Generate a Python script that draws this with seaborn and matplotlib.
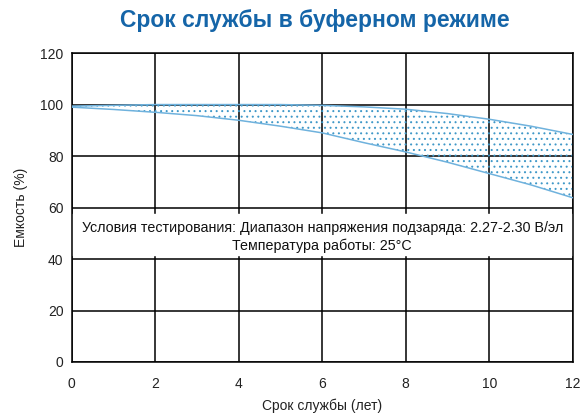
import numpy as np
import pandas as pd
import matplotlib
matplotlib.use("Agg")
import matplotlib.pyplot as plt
import seaborn as sns

# values
years = [0, 1, 2, 3, 4, 5, 6, 7, 8, 9, 10, 11, 12]
upper = [99.4, 99.7, 100, 100, 100, 100, 99.7, 99.1, 98.2, 96.5, 94.3, 91.6, 88.4]
lower = [99.0, 98.1, 97.0, 95.7, 93.9, 91.6, 89.0, 85.2, 81.6, 77.6, 73.2, 68.8, 63.8]
x_ticks = [0, 2, 4, 6, 8, 10, 12]
y_ticks = [0, 20, 40, 60, 80, 100, 120]

title = "Срок службы в буферном режиме"
note = ("Условия тестирования: Диапазон напряжения подзаряда: 2.27-2.30 В/эл\n"
        "Температура работы: 25°C")

sns.set_style("white")
plt.rcParams['font.family'] = ['Liberation Sans', 'DejaVu Sans']
plt.rcParams['hatch.linewidth'] = 0.7
plt.rcParams['hatch.color'] = '#3f98c8'

df = pd.DataFrame({'year': years, 'upper': upper, 'lower': lower})

fig = plt.figure(figsize=(5.88, 4.18), dpi=100)
ax = fig.add_axes([0.122, 0.134, 0.852, 0.739])

line_col = '#6fb2dd'
ax.fill_between(df['year'], df['lower'], df['upper'], facecolor='none',
                edgecolor='#3f98c8', hatch='...', linewidth=0, zorder=1)
sns.lineplot(data=df, x='year', y='upper', color=line_col, lw=1.1, ax=ax, zorder=3)
sns.lineplot(data=df, x='year', y='lower', color=line_col, lw=1.1, ax=ax, zorder=3)

ax.set_xlim(0, 12)
ax.set_ylim(0, 120)
ax.set_xticks(x_ticks)
ax.set_yticks(y_ticks)
ax.grid(True, color='black', lw=1.1)
ax.set_axisbelow(True)
for s in ax.spines.values():
    s.set_color('black')
    s.set_linewidth(1.1)
ax.tick_params(length=0, labelsize=10, colors='#222222', pad=6)
ax.tick_params(axis='x', pad=11)

# white band behind the note text
ax.axhspan(41.5, 57.5, color='white', zorder=1.5)
ax.text(6, 48.6, note, ha='center', va='center', fontsize=10.3, color='#111111',
        zorder=4, linespacing=1.35)

ax.set_xlabel("Срок службы (лет)", fontsize=10, color='#222222', labelpad=5)
ax.set_ylabel("Емкость (%)", fontsize=10, color='#222222', labelpad=9)

fig.text(0.536, 0.952, title, ha='center', va='center', fontsize=16.5,
         fontweight='bold', color='#1565a8')

fig.savefig("out.png", dpi=100)
